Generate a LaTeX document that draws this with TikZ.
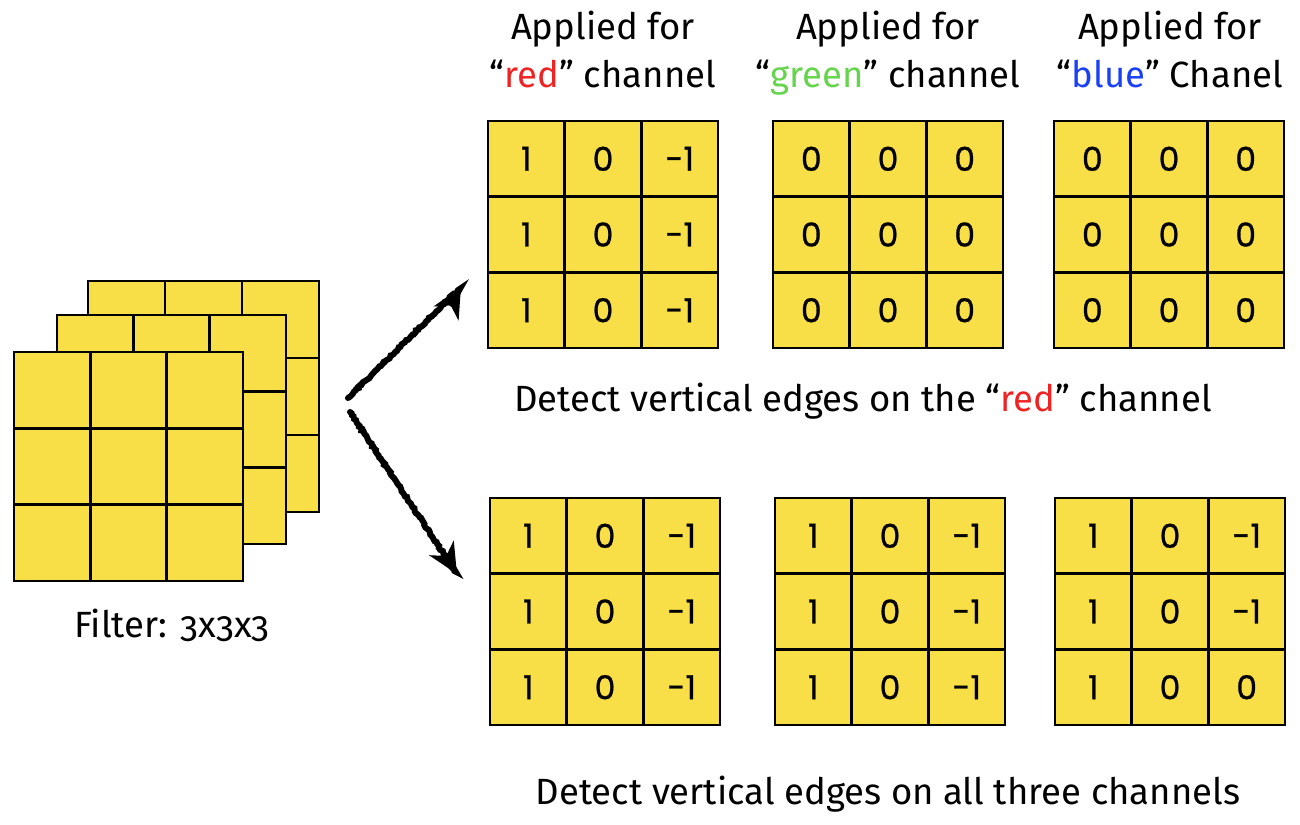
\documentclass[tikz,border=0pt]{standalone}
\usepackage{fontspec}
\setmainfont[Numbers=OldStyle]{Fira Sans}
\newfontfamily\numfont[FakeBold=0.8]{Poppins}
\usetikzlibrary{matrix,arrows.meta,decorations.pathmorphing}
\definecolor{cellyellow}{RGB}{248,223,72}
\definecolor{tred}{RGB}{238,36,36}
\definecolor{tgreen}{RGB}{102,212,76}
\definecolor{tblue}{RGB}{26,64,245}
\newcommand{\cellfont}{\numfont\fontsize{33}{33}\selectfont}
\tikzset{
  cell/.style={draw=black, line width=2.5pt, fill=cellyellow, minimum width=76.7pt, minimum height=75.7pt, inner sep=0pt, anchor=center, font=\cellfont},
  kgrid/.style={matrix of nodes, nodes={cell}, column sep=-2.5pt, row sep=-2.5pt, inner sep=0pt},
  plainsq/.style={draw=black, line width=2.5pt, fill=cellyellow},
  label/.style={font=\fontsize{36.5}{48}\selectfont, align=center, inner sep=0pt},
  sketch/.style={line width=6pt, line cap=round, decorate, decoration={random steps, segment length=2pt, amplitude=0.9pt},
    -{Stealth[length=30pt, width=28pt, inset=9pt]}}
}
\begin{document}
\begin{tikzpicture}[x=1pt, y=-1pt]
\useasboundingbox (0,0) rectangle (1300,824);

% filter stack (back to front)
\foreach \nm/\xx/\yy/\ss in {back/88/281/231, mid/57/315/229, front/14/352/229}{
  \draw[plainsq] (\xx,\yy) rectangle ++(\ss,\ss);
  \draw[line width=2.5pt] (\xx+\ss/3,\yy) -- ++(0,\ss) (\xx+2*\ss/3,\yy) -- ++(0,\ss)
        (\xx,\yy+\ss/3) -- ++(\ss,0) (\xx,\yy+2*\ss/3) -- ++(\ss,0);
}
\node[label, anchor=base] (filt) at (172,637) {Filter: 3x3x3};

% headings
\node[label, anchor=base] (h1) at (603,88) {Applied for\\“\textcolor{tred}{red}” channel};
\node[label, anchor=base] (h2) at (888,88) {Applied for\\“\textcolor{tgreen}{green}” channel};
\node[label, anchor=base] (h3) at (1170,88) {Applied for\\“\textcolor{tblue}{blue}” Chanel};

% top grids
\matrix (t1) [kgrid] at (603,234.5) {1 & 0 & -1\\ 1 & 0 & -1\\ 1 & 0 & -1\\};
\matrix (t2) [kgrid] at (888,234.5) {0 & 0 & 0\\ 0 & 0 & 0\\ 0 & 0 & 0\\};
\matrix (t3) [kgrid] at (1169,234.5) {0 & 0 & 0\\ 0 & 0 & 0\\ 0 & 0 & 0\\};

\node[label, anchor=base] (cap1) at (863,411) {Detect vertical edges on the “\textcolor{tred}{red}” channel};

% bottom grids
\matrix (b1) [kgrid] at (605,611.5) {1 & 0 & -1\\ 1 & 0 & -1\\ 1 & 0 & -1\\};
\matrix (b2) [kgrid] at (890,611.5) {1 & 0 & -1\\ 1 & 0 & -1\\ 1 & 0 & -1\\};
\matrix (b3) [kgrid] at (1170,611.5) {1 & 0 & -1\\ 1 & 0 & -1\\ 1 & 0 & 0\\};

\node[label, anchor=base] (cap2) at (888,804) {Detect vertical edges on all three channels};

% arrows
\coordinate (a0) at (348,398);
\coordinate (a1) at (461,287);
\coordinate (b0) at (350,412);
\coordinate (b1e) at (457,574);
\draw[sketch] (a0) -- (a1);
\draw[sketch] (b0) -- (b1e);
\end{tikzpicture}
\end{document}
